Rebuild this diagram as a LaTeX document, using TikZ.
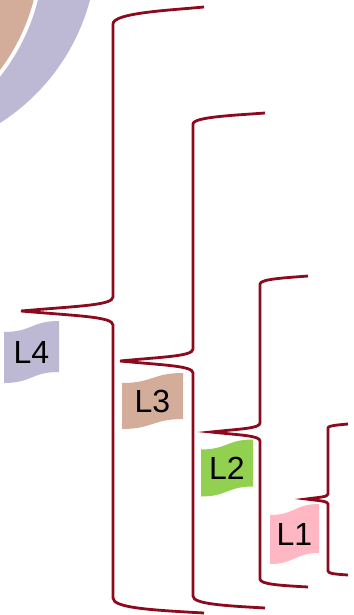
\documentclass[tikz,border=0pt]{standalone}
\usepackage{fontspec}
\setmainfont{Liberation Sans}
\definecolor{bracered}{HTML}{8B0A1E}
\definecolor{layerlav}{HTML}{BDB9D4}
\definecolor{layertan}{HTML}{D3AC9A}
\definecolor{layergreen}{HTML}{92D050}
\definecolor{layerpink}{HTML}{FFB7C3}

% #1 stem x, #2 tip x, #3 tip y, #4 end x, #5 top end y, #6 top corner y,
% #7 bottom corner y, #8 bottom end y, #9 kink half height
\newcommand{\layerbrace}[9]{%
  \draw[brace line] (#4,#5)
    .. controls ({#1+0.6*(#4-#1)},{#5+0.2*(#6-#5)}) and (#1,{#5+0.35*(#6-#5)}) .. (#1,#6)
    -- (#1,{#3-#9})
    .. controls (#1,{#3-0.4*#9}) and ({#1-0.4*(#1-#2)},{#3-0.35*#9}) .. (#2,#3)
    .. controls ({#1-0.4*(#1-#2)},{#3+0.35*#9}) and (#1,{#3+0.4*#9}) .. (#1,{#3+#9})
    -- (#1,#7)
    .. controls (#1,{#7+0.65*(#8-#7)}) and ({#1+0.4*(#4-#1)},{#8-0.2*(#8-#7)}) .. (#4,#8);}

\begin{document}
\begin{tikzpicture}[x=1pt,y=-1pt,
  brace line/.style={draw=bracered,line width=2.8pt},
  tag text/.style={font=\fontsize{32}{36}\selectfont,inner sep=0pt}]
\useasboundingbox (0,0) rectangle (353,615);

% rings in the corner
\begin{scope}
  \clip (0,0) rectangle (353,615);
  \fill[layerlav] (-113,-54) circle (210pt);
  \fill[white] (-160,-50) circle (204pt);
  \fill[layertan] (-160,-50) circle (200pt);
\end{scope}

% braces
\layerbrace{113}{21}{311}{204}{7}{24}{598}{613}{14}
\layerbrace{193}{120}{361}{265}{113}{124}{596}{608}{12}
\layerbrace{260}{211}{432}{308}{276}{284}{579}{587}{9}
\layerbrace{328}{306}{499}{348}{424}{428}{571}{575}{5}

% tags
\foreach \nm/\cx/\cy/\w/\h/\d/\col/\txt in
  {l4/31.5/352/55/62/11/layerlav/L4,
   l3/152.5/401/61/56/10/layertan/L3,
   l2/227/468/52/57/10/layergreen/L2,
   l1/294.5/534/49/60/11/layerpink/L1}
{
  \fill[\col] ({\cx-\w/2},{\cy-\h/2+\d})
    .. controls (\cx,{\cy-\h/2+\d}) and (\cx,{\cy-\h/2}) .. ({\cx+\w/2},{\cy-\h/2})
    -- ({\cx+\w/2},{\cy+\h/2-\d})
    .. controls (\cx,{\cy+\h/2-\d}) and (\cx,{\cy+\h/2}) .. ({\cx-\w/2},{\cy+\h/2})
    -- cycle;
  \node[tag text] (\nm) at (\cx,\cy) {\txt};
}
\end{tikzpicture}
\end{document}
